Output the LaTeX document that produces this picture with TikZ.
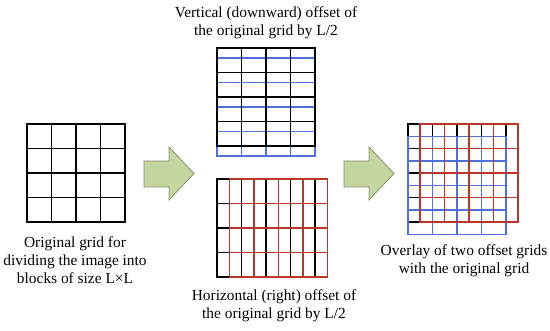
\documentclass[tikz,border=0pt]{standalone}
\usepackage{fontspec}
\setmainfont{Liberation Serif}
\usetikzlibrary{positioning}

\definecolor{gridblue}{RGB}{80,112,215}
\definecolor{gridred}{RGB}{185,55,40}
\definecolor{arrowfill}{RGB}{196,214,160}
\definecolor{arrowline}{RGB}{130,142,105}

% one 4x4 grid of cells L = 24.5 with its top left corner at (#2,#3)
\newcommand{\blockgrid}[3]{%
  \foreach \k in {0,...,4}{
    \draw[#1] (#2+\k*24.5,#3) -- ++(0,98);
    \draw[#1] (#2,#3+\k*24.5) -- ++(98,0);
  }}

\begin{document}
\begin{tikzpicture}[
  x=1pt,y=-1pt,
  blk/.style={line width=1.5pt,black,line cap=rect},
  blu/.style={line width=1.2pt,gridblue,line cap=rect},
  rd/.style={line width=1.2pt,gridred,line cap=rect},
  bigarrow/.style={fill=arrowfill,draw=arrowline,line width=0.8pt,line join=miter},
  capt/.style={font=\fontsize{15.4}{18.3}\selectfont,align=center,inner sep=0pt}]

  \useasboundingbox (0,0) rectangle (550,331);

  % original grid
  \blockgrid{blk}{27}{124}
  \node[capt] (origtxt) at (75,260) {Original grid for\\dividing the image into\\blocks of size L×L};

  % vertical offset
  \blockgrid{blu}{217}{58}
  \blockgrid{blk}{217}{48}
  \node[capt] (verttxt) at (266,22.5) {Vertical (downward) offset of\\the original grid by L/2};

  % horizontal offset
  \blockgrid{blk}{217}{179}
  \blockgrid{rd}{229.5}{179}
  \node[capt] (horztxt) at (274,306) {Horizontal (right) offset of\\the original grid by L/2};

  % overlay
  \blockgrid{blk}{408}{124}
  \blockgrid{blu}{408}{136.5}
  \blockgrid{rd}{420}{124}
  \node[capt] (overtxt) at (464,261) {Overlay of two offset grids\\with the original grid};

  % arrows
  \foreach \dx in {0,200}
    \draw[bigarrow,xshift=\dx] (144,161) -- (169,161) -- (169,147) -- (194,173.5)
      -- (169,200) -- (169,187) -- (144,187) -- cycle;
\end{tikzpicture}
\end{document}
